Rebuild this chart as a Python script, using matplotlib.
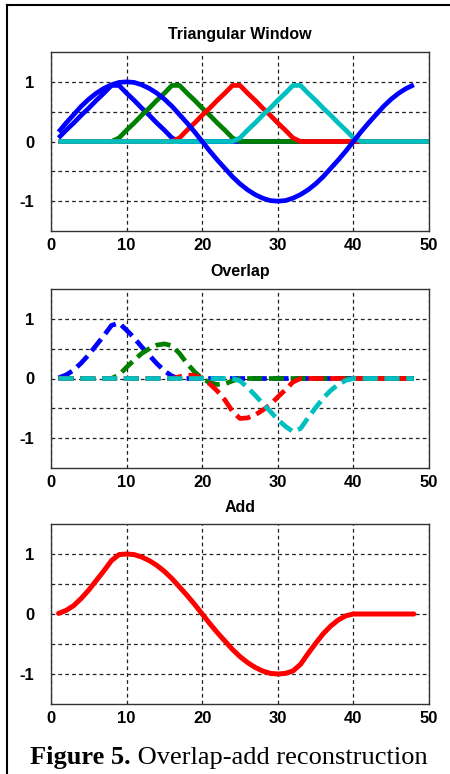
import matplotlib
matplotlib.use('Agg')
import matplotlib.pyplot as plt
from matplotlib.lines import Line2D
from matplotlib.ticker import FixedLocator

plt.rcParams['axes.unicode_minus'] = False

# sample index of the signal / windowed pieces
n = list(range(1, 49))
# window arrays run one step further so the zero line reaches the right edge
n_win = list(range(1, 52))

signal = [0.16, 0.31, 0.45, 0.59, 0.71, 0.81, 0.89, 0.95, 0.99, 1.00,
          0.99, 0.95, 0.89, 0.81, 0.71, 0.59, 0.45, 0.31, 0.16, 0.00,
          -0.16, -0.31, -0.45, -0.59, -0.71, -0.81, -0.89, -0.95, -0.99, -1.00,
          -0.99, -0.95, -0.89, -0.81, -0.71, -0.59, -0.45, -0.31, -0.16, 0.00,
          0.16, 0.31, 0.45, 0.59, 0.71, 0.81, 0.89, 0.95]

win1 = [0.06, 0.19, 0.31, 0.44, 0.56, 0.69, 0.81, 0.94, 0.94, 0.81,
        0.69, 0.56, 0.44, 0.31, 0.19, 0.06, 0, 0, 0, 0,
        0, 0, 0, 0, 0, 0, 0, 0, 0, 0,
        0, 0, 0, 0, 0, 0, 0, 0, 0, 0,
        0, 0, 0, 0, 0, 0, 0, 0, 0, 0, 0]
win2 = [0, 0, 0, 0, 0, 0, 0, 0, 0.06, 0.19,
        0.31, 0.44, 0.56, 0.69, 0.81, 0.94, 0.94, 0.81, 0.69, 0.56,
        0.44, 0.31, 0.19, 0.06, 0, 0, 0, 0, 0, 0,
        0, 0, 0, 0, 0, 0, 0, 0, 0, 0,
        0, 0, 0, 0, 0, 0, 0, 0, 0, 0, 0]
win3 = [0, 0, 0, 0, 0, 0, 0, 0, 0, 0,
        0, 0, 0, 0, 0, 0, 0.06, 0.19, 0.31, 0.44,
        0.56, 0.69, 0.81, 0.94, 0.94, 0.81, 0.69, 0.56, 0.44, 0.31,
        0.19, 0.06, 0, 0, 0, 0, 0, 0, 0, 0,
        0, 0, 0, 0, 0, 0, 0, 0, 0, 0, 0]
win4 = [0, 0, 0, 0, 0, 0, 0, 0, 0, 0,
        0, 0, 0, 0, 0, 0, 0, 0, 0, 0,
        0, 0, 0, 0, 0.06, 0.19, 0.31, 0.44, 0.56, 0.69,
        0.81, 0.94, 0.94, 0.81, 0.69, 0.56, 0.44, 0.31, 0.19, 0.06,
        0, 0, 0, 0, 0, 0, 0, 0, 0, 0, 0]

over1 = [0.01, 0.06, 0.14, 0.26, 0.40, 0.56, 0.72, 0.89, 0.93, 0.81,
         0.68, 0.53, 0.39, 0.25, 0.13, 0.04, 0, 0, 0, 0,
         0, 0, 0, 0, 0, 0, 0, 0, 0, 0,
         0, 0, 0, 0, 0, 0, 0, 0, 0, 0,
         0, 0, 0, 0, 0, 0, 0, 0]
over2 = [0, 0, 0, 0, 0, 0, 0, 0, 0.06, 0.19,
         0.31, 0.42, 0.50, 0.56, 0.58, 0.55, 0.42, 0.25, 0.11, 0,
         -0.07, -0.10, -0.09, -0.04, 0, 0, 0, 0, 0, 0,
         0, 0, 0, 0, 0, 0, 0, 0, 0, 0,
         0, 0, 0, 0, 0, 0, 0, 0]
over3 = [0, 0, 0, 0, 0, 0, 0, 0, 0, 0,
         0, 0, 0, 0, 0, 0, 0.03, 0.06, 0.05, 0,
         -0.09, -0.21, -0.36, -0.55, -0.67, -0.66, -0.61, -0.53, -0.44, -0.31,
         -0.19, -0.06, 0, 0, 0, 0, 0, 0, 0, 0,
         0, 0, 0, 0, 0, 0, 0, 0]
over4 = [0, 0, 0, 0, 0, 0, 0, 0, 0, 0,
         0, 0, 0, 0, 0, 0, 0, 0, 0, 0,
         0, 0, 0, 0, -0.04, -0.15, -0.28, -0.42, -0.55, -0.69,
         -0.80, -0.89, -0.84, -0.66, -0.49, -0.33, -0.20, -0.10, -0.03, 0,
         0, 0, 0, 0, 0, 0, 0, 0]

added = [0.01, 0.06, 0.14, 0.26, 0.40, 0.56, 0.72, 0.89, 0.99, 1.00,
         0.99, 0.95, 0.89, 0.81, 0.71, 0.59, 0.45, 0.31, 0.16, 0.00,
         -0.16, -0.31, -0.45, -0.59, -0.71, -0.81, -0.89, -0.95, -0.99, -1.00,
         -0.99, -0.95, -0.84, -0.66, -0.49, -0.33, -0.20, -0.10, -0.03, 0,
         0, 0, 0, 0, 0, 0, 0, 0]

titles = ["Triangular Window", "Overlap", "Add"]
colors = ['#0000ff', '#008000', '#ff0000', '#00bfbf']

W, H = 450, 774
fig = plt.figure(figsize=(W / 100, H / 100), dpi=100)
fig.patch.set_facecolor('white')

# axes boxes in pixels: (top, bottom)
boxes = [(52, 231), (289, 468), (524, 704)]
axes = []
for top, bottom in boxes:
    ax = fig.add_axes([51 / W, 1 - bottom / H, (429 - 51) / W, (bottom - top) / H])
    axes.append(ax)

for ax, title in zip(axes, titles):
    ax.set_xlim(0, 50)
    ax.set_ylim(-1.5, 1.5)
    ax.set_xticks([0, 10, 20, 30, 40, 50])
    ax.set_yticks([-1, 0, 1])
    ax.yaxis.set_minor_locator(FixedLocator([-0.5, 0.5]))
    ax.grid(True, which='both', color='#222222', linestyle=(0, (3, 2.5)), linewidth=0.9)
    ax.set_axisbelow(True)
    ax.tick_params(which='both', length=0)
    ax.tick_params(axis='y', pad=12)
    ax.tick_params(axis='x', pad=5)
    for lab in ax.get_xticklabels() + ax.get_yticklabels():
        lab.set_fontfamily('Liberation Sans')
        lab.set_fontweight('bold')
        lab.set_fontsize(12)
    for sp in ax.spines.values():
        sp.set_color('#333333')
        sp.set_linewidth(1.0)
    ax.set_title(title, fontfamily='Liberation Sans', fontweight='bold', fontsize=11.5, pad=9)

# top: windows and signal
ax1 = axes[0]
for w, c in zip([win1, win2, win3, win4], colors):
    ax1.plot(n_win, w, color=c, lw=3.4, solid_capstyle='butt')
ax1.plot(n, signal, color=colors[0], lw=3.4, solid_capstyle='butt')

# middle: windowed pieces, dashed
ax2 = axes[1]
for s, c in zip([over1, over2, over3, over4], colors):
    line, = ax2.plot(n, s, color=c, lw=3.4, dash_capstyle='butt')
    line.set_dashes([3.2, 1.4])

# bottom: sum
ax3 = axes[2]
ax3.plot(n, added, color=colors[2], lw=3.6, solid_capstyle='round')

# frame lines (top and left)
fig.add_artist(Line2D([7 / W, 1.0], [1 - 5 / H, 1 - 5 / H], color='black', lw=1.5))
fig.add_artist(Line2D([7 / W, 7 / W], [1 - 5 / H, 0.0], color='black', lw=1.5))

# caption: bold part followed by regular part
t1 = fig.text(30 / W, 1 - 764 / H, "Figure 5.", fontfamily='Liberation Serif',
              fontweight='bold', fontsize=19, ha='left', va='baseline')
renderer = fig.canvas.get_renderer()
bb = t1.get_window_extent(renderer=renderer)
fig.text(bb.x1 / W, 1 - 764 / H, " Overlap-add reconstruction", fontfamily='Liberation Serif',
         fontsize=19, ha='left', va='baseline')

fig.savefig('out.png', dpi=100)
